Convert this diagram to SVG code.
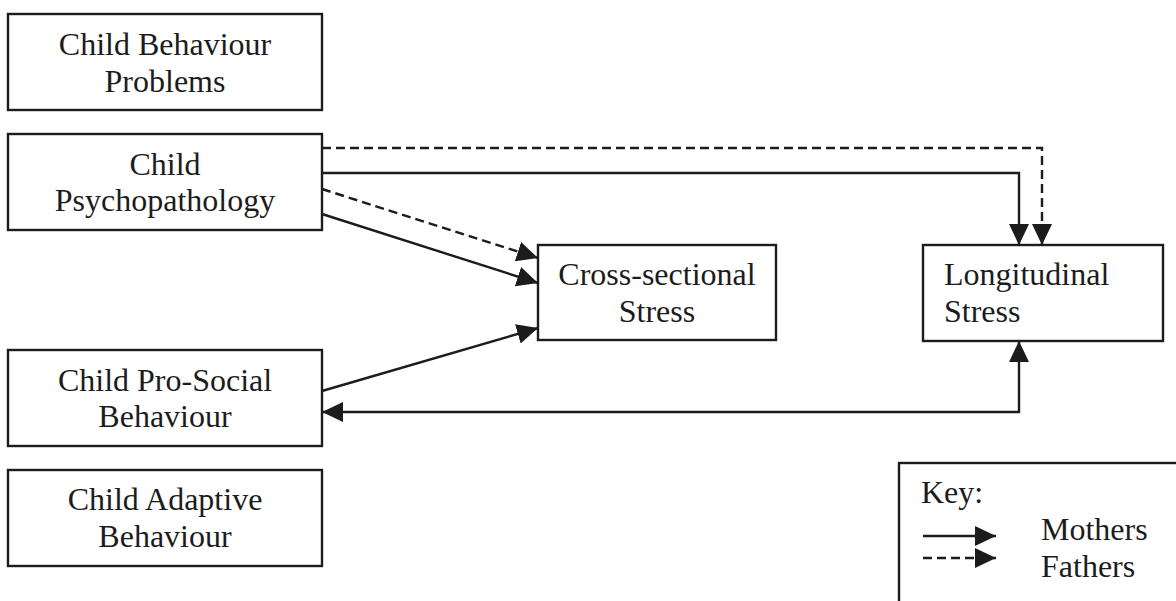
<svg xmlns="http://www.w3.org/2000/svg" width="1176" height="601" viewBox="0 0 1176 601">
  <style>
    .box { fill: #ffffff; stroke: #1c1c1c; stroke-width: 2.4; }
    .lbl { font-family: "Liberation Serif", "Times New Roman", serif; font-size: 32px; fill: #1c1c1c; }
    .mid { text-anchor: middle; }
    .conn { fill: none; stroke: #1c1c1c; stroke-width: 2.4; }
    .dash { stroke-dasharray: 9 5; }
  </style>
  <defs>
    <marker id="head" markerUnits="userSpaceOnUse" markerWidth="22" markerHeight="22" refX="21" refY="11" orient="auto-start-reverse">
      <path d="M0,1 L21,11 L0,21 z" fill="#1c1c1c"/>
    </marker>
  </defs>

  <rect width="1176" height="601" fill="#ffffff"/>

  <g id="child-behaviour-problems">
    <rect class="box" x="8" y="14" width="314" height="96"/>
    <text class="lbl mid" x="165" y="55">Child Behaviour</text>
    <text class="lbl mid" x="165" y="92">Problems</text>
  </g>

  <g id="child-psychopathology">
    <rect class="box" x="8" y="134" width="314" height="96"/>
    <text class="lbl mid" x="165" y="175">Child</text>
    <text class="lbl mid" x="165" y="211">Psychopathology</text>
  </g>

  <g id="child-prosocial">
    <rect class="box" x="8" y="350" width="314" height="96"/>
    <text class="lbl mid" x="165" y="391">Child Pro-Social</text>
    <text class="lbl mid" x="165" y="427">Behaviour</text>
  </g>

  <g id="child-adaptive">
    <rect class="box" x="8" y="470" width="314" height="96"/>
    <text class="lbl mid" x="165" y="510">Child Adaptive</text>
    <text class="lbl mid" x="165" y="547">Behaviour</text>
  </g>

  <g id="cross-sectional-stress">
    <rect class="box" x="538" y="245" width="238" height="95"/>
    <text class="lbl mid" x="657" y="285">Cross-sectional</text>
    <text class="lbl mid" x="657" y="322">Stress</text>
  </g>

  <g id="longitudinal-stress">
    <rect class="box" x="923" y="245" width="240" height="96"/>
    <text class="lbl" x="944" y="285">Longitudinal</text>
    <text class="lbl" x="944" y="322">Stress</text>
  </g>

  <g id="connectors">
    <!-- psychopathology to longitudinal stress -->
    <path class="conn dash" d="M322,148 H1042 V245" marker-end="url(#head)"/>
    <path class="conn" d="M322,173 H1019 V245" marker-end="url(#head)"/>
    <!-- psychopathology to cross-sectional stress -->
    <path class="conn dash" d="M322,189 L538,258" marker-end="url(#head)"/>
    <path class="conn" d="M322,214 L538,283" marker-end="url(#head)"/>
    <!-- pro-social to cross-sectional stress -->
    <path class="conn" d="M322,391 L538,328" marker-end="url(#head)"/>
    <!-- pro-social and longitudinal stress, both directions -->
    <path class="conn" d="M322,412 H1019 V341" marker-start="url(#head)" marker-end="url(#head)"/>
  </g>

  <g id="key">
    <rect class="box" x="899" y="463" width="300" height="200"/>
    <text class="lbl" x="921" y="503">Key:</text>
    <path class="conn" d="M923,536 H996" marker-end="url(#head)"/>
    <path class="conn dash" d="M923,558 H996" marker-end="url(#head)"/>
    <text class="lbl" x="1041" y="540">Mothers</text>
    <text class="lbl" x="1041" y="577">Fathers</text>
  </g>
</svg>
